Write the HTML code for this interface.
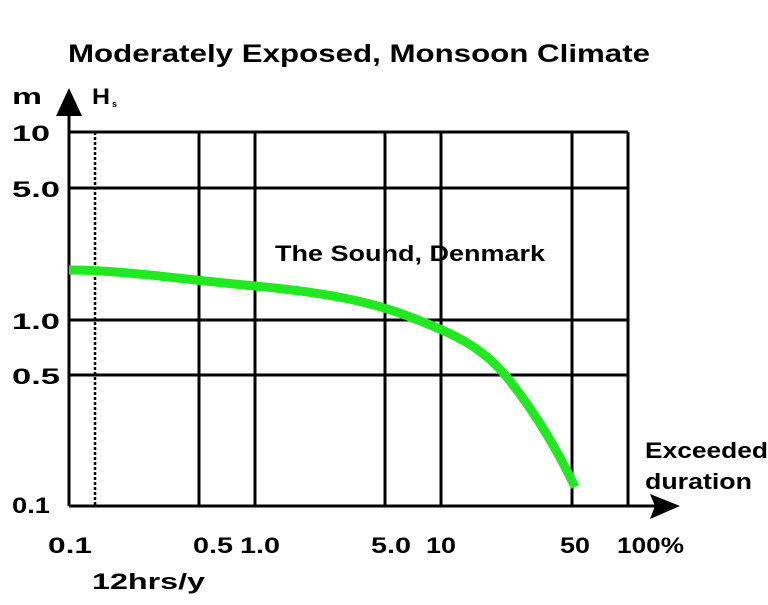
<!DOCTYPE html>
<html><head><style>body{margin:0;background:#fff}svg text{font-family:"Liberation Sans",sans-serif;font-weight:bold;fill:#000}</style></head>
<body>
<svg width="768" height="600" xmlns="http://www.w3.org/2000/svg">
<g stroke="#000" stroke-width="3" fill="none">
<line x1="69" y1="132" x2="628" y2="132"/>
<line x1="69" y1="188" x2="628" y2="188"/>
<line x1="69" y1="320" x2="628" y2="320"/>
<line x1="69" y1="375" x2="628" y2="375"/>
<line x1="199" y1="132" x2="199" y2="506"/>
<line x1="255" y1="132" x2="255" y2="506"/>
<line x1="385" y1="132" x2="385" y2="506"/>
<line x1="441" y1="132" x2="441" y2="506"/>
<line x1="572" y1="132" x2="572" y2="506"/>
<line x1="628" y1="132" x2="628" y2="506"/>
<line x1="69" y1="110" x2="69" y2="506"/>
<line x1="69" y1="506" x2="655" y2="506"/>
<line x1="95" y1="132" x2="95" y2="506" stroke-dasharray="3,2" stroke-width="2.5"/>
</g>
<polygon points="69,88 56,116 82,116" fill="#000"/>
<polygon points="680,506 650,494 655,506 650,519" fill="#000"/>
<path d="M69,270 C120,270 170,278 255,286 C330,293 370,302 405,315 C450,332 480,345 505,375 C530,405 555,445 575,487" stroke="#22e822" stroke-width="9" fill="none"/>
<g lengthAdjust="spacingAndGlyphs">
<text x="68" y="62" font-size="25" textLength="582" lengthAdjust="spacingAndGlyphs">Moderately Exposed, Monsoon Climate</text>
<text x="12" y="104" font-size="22" textLength="30" lengthAdjust="spacingAndGlyphs">m</text>
<text x="92" y="104" font-size="22" textLength="18" lengthAdjust="spacingAndGlyphs">H</text><text x="112" y="107" font-size="9">s</text>
<text x="12" y="141" font-size="22" textLength="38" lengthAdjust="spacingAndGlyphs">10</text>
<text x="12" y="197" font-size="22" textLength="48" lengthAdjust="spacingAndGlyphs">5.0</text>
<text x="12" y="329" font-size="22" textLength="48" lengthAdjust="spacingAndGlyphs">1.0</text>
<text x="12" y="384" font-size="22" textLength="48" lengthAdjust="spacingAndGlyphs">0.5</text>
<text x="12" y="513" font-size="22" textLength="38" lengthAdjust="spacingAndGlyphs">0.1</text>
<text x="275" y="261" font-size="22" textLength="270" lengthAdjust="spacingAndGlyphs">The Sound, Denmark</text>
<text x="645" y="458" font-size="22" textLength="123" lengthAdjust="spacingAndGlyphs">Exceeded</text>
<text x="645" y="489" font-size="22" textLength="107" lengthAdjust="spacingAndGlyphs">duration</text>
<text x="48" y="553" font-size="22" textLength="44" lengthAdjust="spacingAndGlyphs">0.1</text>
<text x="193" y="553" font-size="22" textLength="40" lengthAdjust="spacingAndGlyphs">0.5</text>
<text x="240" y="553" font-size="22" textLength="40" lengthAdjust="spacingAndGlyphs">1.0</text>
<text x="371" y="553" font-size="22" textLength="40" lengthAdjust="spacingAndGlyphs">5.0</text>
<text x="426" y="553" font-size="22" textLength="30" lengthAdjust="spacingAndGlyphs">10</text>
<text x="560" y="553" font-size="22" textLength="30" lengthAdjust="spacingAndGlyphs">50</text>
<text x="617" y="553" font-size="22" textLength="67" lengthAdjust="spacingAndGlyphs">100%</text>
<text x="92" y="589" font-size="22" textLength="113" lengthAdjust="spacingAndGlyphs">12hrs/y</text>
</g>
</svg>
</body></html>
